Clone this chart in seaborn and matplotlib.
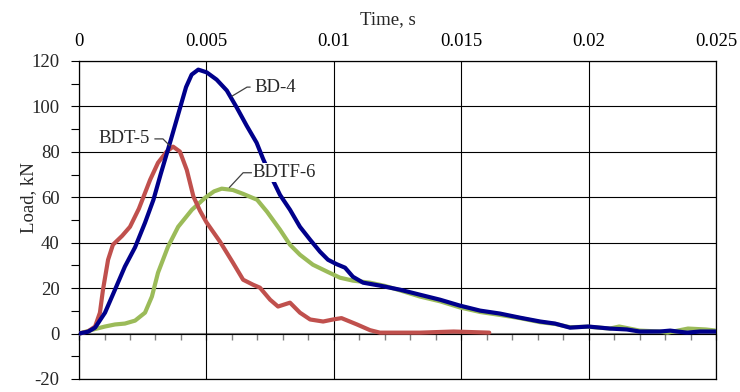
import numpy as np
import pandas as pd
import matplotlib
matplotlib.use("Agg")
import matplotlib.pyplot as plt
import seaborn as sns
from matplotlib.ticker import MultipleLocator

sns.set_style("white")
plt.rcParams["font.family"] = ["Liberation Serif", "DejaVu Serif"]
plt.rcParams["axes.unicode_minus"] = False

# === Datos (tiempo en ms, carga en kN) ===
bd4_ms = [0, 0.35, 0.63, 1.02, 1.41, 1.8, 2.2, 2.59, 2.92, 3.2, 3.57, 3.93, 4.2,
          4.42, 4.68, 5.01, 5.4, 5.8, 6.19, 6.58, 6.97, 7.22, 7.5, 7.89,
          8.28, 8.67, 9.07, 9.46, 9.77, 10.1, 10.44, 10.75, 11.15, 11.81, 12.6,
          13.38, 14.17, 14.95, 15.74, 16.52, 17.3, 18.1, 18.68, 19.27, 19.98,
          20.84, 21.5, 22.0, 22.8, 23.2, 23.86, 24.37, 25.0]
bd4_load = [0, 0.8, 2.6, 9.2, 19.3, 29.5, 38.0, 48.8, 58.9, 70.0, 84.0, 98.0, 108.5,
            114.0, 116.2, 115.0, 111.8, 107.0, 99.5, 91.5, 84.0, 77.0, 70.0, 61.0,
            54.5, 47.0, 41.3, 36.0, 32.5, 30.6, 29.0, 25.0, 22.4, 21.1, 19.3,
            17.1, 14.9, 12.3, 10.1, 8.8, 7.0, 5.3, 4.4, 2.6, 3.1,
            2.2, 1.8, 0.9, 0.9, 1.3, 0.4, 0.9, 0.9]

bdt5_ms = [0, 0.35, 0.63, 0.82, 0.94, 1.14, 1.33, 1.69, 2.0, 2.35, 2.79, 3.1, 3.44,
           3.69, 3.96, 4.23, 4.49, 4.75, 5.0, 5.53, 6.04, 6.44, 6.83, 7.1,
           7.5, 7.81, 8.28, 8.67, 9.07, 9.58, 9.97, 10.3, 10.91, 11.42, 11.81,
           13.38, 14.7, 16.1]
bdt5_load = [0, 0.9, 3.1, 9.2, 19.3, 32.5, 39.1, 43.0, 47.0, 55.0, 67.7, 75.2, 80.1,
             82.3, 80.1, 72.0, 60.3, 54.0, 49.0, 40.5, 31.2, 23.7, 21.5, 20.2,
             14.9, 11.9, 13.6, 9.2, 6.2, 5.3, 6.2, 6.8, 4.0, 1.5, 0.4,
             0.4, 0.9, 0.4]

bdtf6_ms = [0, 0.63, 1.02, 1.41, 1.8, 2.2, 2.59, 2.86, 3.1, 3.49, 3.89, 4.43, 4.95,
            5.3, 5.6, 6.04, 6.44, 6.99, 7.38, 7.89, 8.28, 8.67, 9.18, 9.73, 10.24,
            10.75, 11.42, 12.0, 12.6, 13.38, 14.17, 14.95, 15.74, 16.52, 17.3,
            18.1, 18.7, 19.27, 19.98, 20.84, 21.2, 22.0, 22.8, 23.1, 23.9, 24.6, 25.0]
bdtf6_load = [0, 2.0, 3.1, 4.0, 4.4, 5.7, 9.2, 16.3, 26.8, 38.2, 47.0, 54.5, 59.8,
              62.6, 63.8, 63.2, 61.5, 58.9, 53.6, 45.7, 39.1, 34.7, 30.3, 27.3, 24.6,
              23.3, 22.4, 21.0, 19.0, 16.3, 14.2, 11.5, 9.5, 8.2, 6.8,
              5.0, 4.2, 2.8, 3.0, 2.2, 3.1, 1.3, 0.9, 0.4, 2.2, 1.8, 1.3]

specimens = ["BDTF-6", "BDT-5", "BD-4"]
colors = ["#9BBB59", "#C0504D", "#00008B"]
x_ticks = [0, 0.005, 0.01, 0.015, 0.02, 0.025]
x_tick_labels = ["0", "0.005", "0.01", "0.015", "0.02", "0.025"]
y_ticks = [-20, 0, 20, 40, 60, 80, 100, 120]

df = pd.concat([
    pd.DataFrame({"Time": np.array(bdtf6_ms) / 1000, "Load": bdtf6_load, "Specimen": "BDTF-6"}),
    pd.DataFrame({"Time": np.array(bdt5_ms) / 1000, "Load": bdt5_load, "Specimen": "BDT-5"}),
    pd.DataFrame({"Time": np.array(bd4_ms) / 1000, "Load": bd4_load, "Specimen": "BD-4"}),
])

fig = plt.figure(figsize=(7.4, 3.92), dpi=100)
ax = fig.add_axes([0.1068, 0.0332, 0.8608, 0.8112])

sns.lineplot(data=df, x="Time", y="Load", hue="Specimen", hue_order=specimens,
             palette=colors, estimator=None, sort=False, lw=3, legend=False,
             solid_joinstyle="round", solid_capstyle="round", zorder=3, ax=ax)

ax.set_xlim(0, 0.025)
ax.set_ylim(-20, 120)

# eje x arriba, con etiquetas
ax.set_xticks(x_ticks, labels=x_tick_labels)
ax.xaxis.tick_top()
ax.xaxis.set_label_position("top")
ax.tick_params(axis="x", length=0, pad=8, labelsize=13.5, colors="black")
ax.set_xlabel("Time, s", fontsize=13.5)
ax.xaxis.set_label_coords(0.485, 1.105)
ax.xaxis.label.set_va("bottom")

ax.set_yticks(y_ticks)
ax.yaxis.set_minor_locator(MultipleLocator(10))
ax.tick_params(axis="y", which="both", left=True, direction="out", length=6,
               width=0.8, color="black", pad=8, labelsize=13.5)
ax.set_ylabel("Load, kN", fontsize=13.5)
ax.yaxis.set_label_coords(-0.066, 0.572)

ax.grid(True, which="major", color="black", lw=0.8)
ax.set_axisbelow(True)
for s in ax.spines.values():
    s.set_color("black")
    s.set_linewidth(0.9)

# linea de cero con marcas menores
zero_ax = ax.secondary_xaxis(20 / 140)
zero_ax.xaxis.set_major_locator(MultipleLocator(0.001))
zero_ax.tick_params(axis="x", direction="out", length=4, width=1, color="#808080",
                    labelbottom=False, labeltop=False)
zero_ax.spines["bottom"].set_color("#808080")
zero_ax.spines["bottom"].set_linewidth(1.5)

# etiquetas de las curvas
ax.annotate("BD-4", xy=(0.00600, 104.5), xytext=(0.0069, 108.5), fontsize=13.5,
            ha="left", va="center",
            arrowprops=dict(arrowstyle="-", color="#404040", lw=0.9, relpos=(0, 0.5),
                            shrinkA=1, shrinkB=0,
                            connectionstyle="angle,angleA=0,angleB=31"))
ax.annotate("BDT-5", xy=(0.00357, 82.6), xytext=(0.00279, 85.7), fontsize=13.5,
            ha="right", va="center",
            arrowprops=dict(arrowstyle="-", color="#404040", lw=0.9, relpos=(1, 0.5),
                            shrinkA=1, shrinkB=0,
                            connectionstyle="angle,angleA=0,angleB=-45"))
ax.annotate("BDTF-6", xy=(0.0059, 64.3), xytext=(0.0068, 70.8), fontsize=13.5,
            ha="left", va="center",
            bbox=dict(facecolor="white", edgecolor="none", pad=0.5),
            arrowprops=dict(arrowstyle="-", color="#404040", lw=0.9, relpos=(0, 0.5),
                            shrinkA=0, shrinkB=0,
                            connectionstyle="angle,angleA=0,angleB=47"))

fig.savefig("out.png", dpi=100)
